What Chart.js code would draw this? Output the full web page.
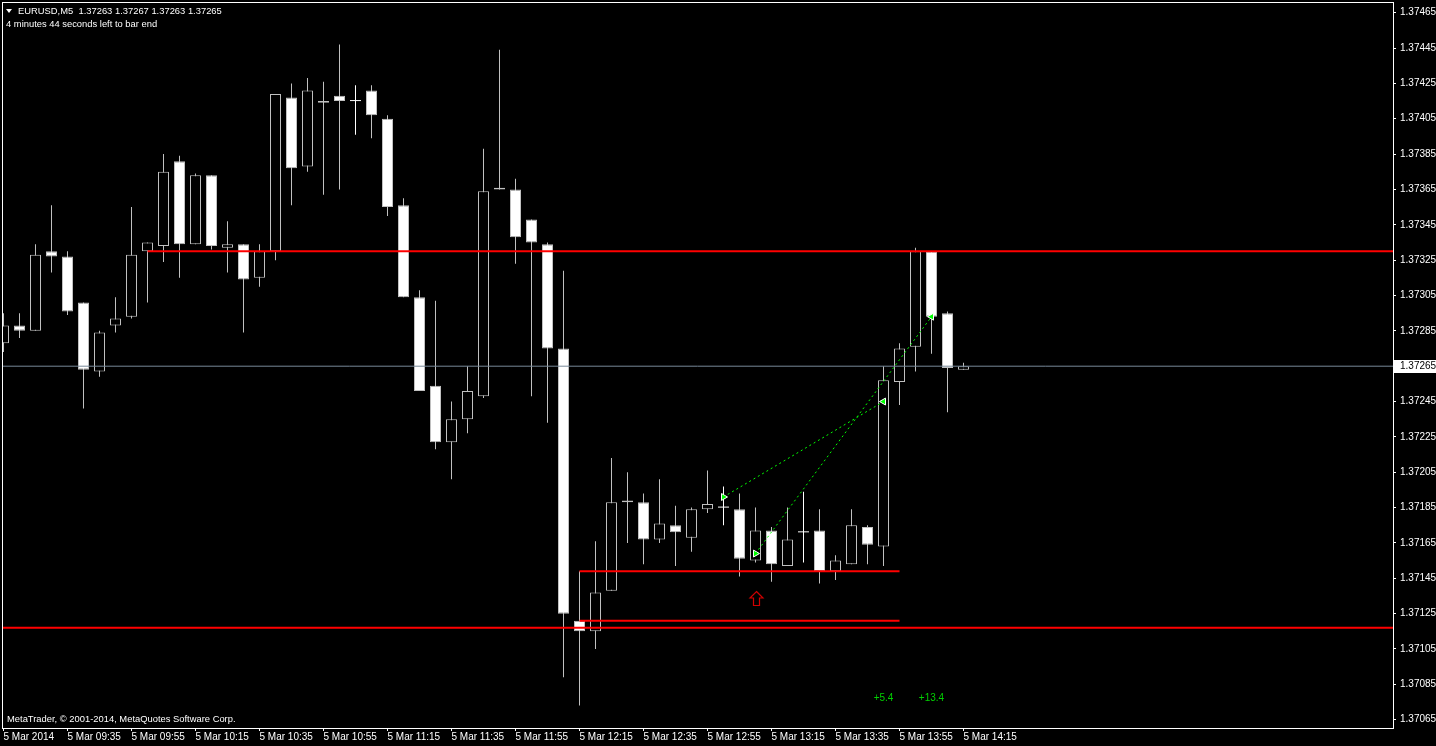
<!DOCTYPE html>
<html>
<head>
<meta charset="utf-8">
<script src="https://cdn.jsdelivr.net/npm/chart.js@4.4.0/dist/chart.umd.min.js"></script>
<style>
html, body { margin: 0; padding: 0; background: #000; overflow: hidden; }
#wrap { position: relative; width: 1436px; height: 746px; }
#c { position: absolute; left: 0; top: 0; }
.txt { position: absolute; color: #fff; font: 9.4px "Liberation Sans", Arial, sans-serif; white-space: pre; line-height: 12px; }
.tri { position: absolute; left: 6px; top: 9px; width: 0; height: 0;
       border-left: 3px solid transparent; border-right: 3px solid transparent; border-top: 4px solid #fff; }
</style>
</head>
<body>
<div id="wrap">
  <canvas id="c" width="1436" height="746"></canvas>
  <div class="tri"></div>
  <div class="txt" style="left:18px; top:5px;">EURUSD,M5  1.37263 1.37267 1.37263 1.37265</div>
  <div class="txt" style="left:6px; top:18px;">4 minutes 44 seconds left to bar end</div>
  <div class="txt" style="left:7px; top:713px;">MetaTrader, © 2001-2014, MetaQuotes Software Corp.</div>
</div>
<script>
// bougies M5 du 5 mars 2014
const times = [
  '09:15','09:20','09:25','09:30','09:35','09:40','09:45','09:50','09:55',
  '10:00','10:05','10:10','10:15','10:20','10:25','10:30','10:35','10:40','10:45','10:50','10:55',
  '11:00','11:05','11:10','11:15','11:20','11:25','11:30','11:35','11:40','11:45','11:50','11:55',
  '12:00','12:05','12:10','12:15','12:20','12:25','12:30','12:35','12:40','12:45','12:50','12:55',
  '13:00','13:05','13:10','13:15','13:20','13:25','13:30','13:35','13:40','13:45','13:50','13:55',
  '14:00','14:05','14:10','14:15'
];
const open = [
  1.37278, 1.37288, 1.37285, 1.37330, 1.37327, 1.37301, 1.37262, 1.37288, 1.37293, 1.37330,
  1.37333, 1.37381, 1.37334, 1.37373, 1.37332, 1.37334, 1.37315, 1.37330, 1.37417, 1.37378,
  1.37414, 1.37418, 1.37415, 1.37421, 1.37405, 1.37356, 1.37304, 1.37254, 1.37222, 1.37235,
  1.37248, 1.37365, 1.37365, 1.37348, 1.37334, 1.37275, 1.37121, 1.37115, 1.37138, 1.37189,
  1.37188, 1.37167, 1.37175, 1.37168, 1.37184, 1.37185, 1.37184, 1.37155, 1.37172, 1.37152,
  1.37171, 1.37172, 1.37149, 1.37153, 1.37174, 1.37163, 1.37256, 1.37276, 1.37330, 1.37295,
  1.37263
];
const high = [
  1.37295, 1.37295, 1.37334, 1.37356, 1.37330, 1.37301, 1.37285, 1.37304, 1.37355, 1.37335,
  1.37385, 1.37384, 1.37374, 1.37373, 1.37347, 1.37334, 1.37334, 1.37419, 1.37425, 1.37428,
  1.37426, 1.37447, 1.37424, 1.37424, 1.37407, 1.37360, 1.37308, 1.37302, 1.37245, 1.37265,
  1.37388, 1.37444, 1.37371, 1.37348, 1.37335, 1.37319, 1.37149, 1.37166, 1.37213, 1.37205,
  1.37193, 1.37201, 1.37186, 1.37185, 1.37206, 1.37197, 1.37193, 1.37185, 1.37174, 1.37185,
  1.37194, 1.37184, 1.37158, 1.37184, 1.37175, 1.37265, 1.37278, 1.37332, 1.37330, 1.37296,
  1.37267
];
const low = [
  1.37273, 1.37281, 1.37285, 1.37318, 1.37294, 1.37241, 1.37259, 1.37284, 1.37292, 1.37301,
  1.37324, 1.37315, 1.37334, 1.37331, 1.37318, 1.37284, 1.37310, 1.37325, 1.37356, 1.37375,
  1.37362, 1.37365, 1.37396, 1.37394, 1.37350, 1.37304, 1.37251, 1.37218, 1.37201, 1.37227,
  1.37247, 1.37365, 1.37323, 1.37248, 1.37233, 1.37089, 1.37073, 1.37105, 1.37138, 1.37165,
  1.37153, 1.37165, 1.37152, 1.37160, 1.37182, 1.37175, 1.37146, 1.37154, 1.37143, 1.37152,
  1.37154, 1.37142, 1.37144, 1.37153, 1.37153, 1.37152, 1.37243, 1.37262, 1.37272, 1.37239,
  1.37263
];
const close = [
  1.37288, 1.37285, 1.37328, 1.37327, 1.37296, 1.37263, 1.37284, 1.37292, 1.37328, 1.37335,
  1.37375, 1.37334, 1.37373, 1.37333, 1.37334, 1.37314, 1.37330, 1.37419, 1.37377, 1.37421,
  1.37415, 1.37415, 1.37415, 1.37407, 1.37355, 1.37304, 1.37251, 1.37222, 1.37235, 1.37251,
  1.37364, 1.37366, 1.37338, 1.37335, 1.37275, 1.37125, 1.37115, 1.37137, 1.37188, 1.37188,
  1.37167, 1.37176, 1.37171, 1.37184, 1.37187, 1.37185, 1.37156, 1.37172, 1.37153, 1.37167,
  1.37171, 1.37149, 1.37155, 1.37175, 1.37164, 1.37257, 1.37275, 1.37330, 1.37293, 1.37264,
  1.37265
];

// axes
const xTickIdx = [0, 4, 8, 12, 16, 20, 24, 28, 32, 36, 40, 44, 48, 52, 56, 60];
const xTickLabels = [
  '5 Mar 2014', '5 Mar 09:35', '5 Mar 09:55', '5 Mar 10:15', '5 Mar 10:35', '5 Mar 10:55',
  '5 Mar 11:15', '5 Mar 11:35', '5 Mar 11:55', '5 Mar 12:15', '5 Mar 12:35', '5 Mar 12:55',
  '5 Mar 13:15', '5 Mar 13:35', '5 Mar 13:55', '5 Mar 14:15'
];
const yTicks = [
  1.37065, 1.37085, 1.37105, 1.37125, 1.37145, 1.37165, 1.37185, 1.37205, 1.37225, 1.37245,
  1.37265, 1.37285, 1.37305, 1.37325, 1.37345, 1.37365, 1.37385, 1.37405, 1.37425, 1.37445,
  1.37465
];
const xMin = -0.09375, xMax = 86.84375;
const yMin = 1.370603, yMax = 1.3747105;

// objets tracés
const bidPrice = 1.37265;
const redLevels = [1.37330, 1.37117, 1.37149, 1.37121];
const redFrom = [9, xMin, 36, 36];
const redTo = [xMax, xMax, 56, 56];
const tradeOpenIdx = [45, 47];
const tradeOpenPrice = [1.37191, 1.37159];
const tradeCloseIdx = [55, 58];
const tradeClosePrice = [1.37245, 1.37293];
const tradeProfit = ['+5.4', '+13.4'];
const profitPrice = 1.37077;
const arrowIdx = 47;
const arrowPrice = 1.37138;

const isDoji = i => open[i] === close[i];

// supprime les marges ajoutées pour les étiquettes
function noPad(axis) {
    axis.paddingTop = 0;
    axis.paddingBottom = 0;
    axis.paddingLeft = 0;
    axis.paddingRight = 0;
}

const datasets = [];

// lignes rouges
redLevels.forEach((lvl, k) => {
    datasets.push({
        type: 'line',
        data: [{ x: redFrom[k], y: lvl }, { x: redTo[k], y: lvl }],
        borderColor: '#ff0000',
        borderWidth: 2,
        pointRadius: 0,
        order: 0
    });
});

// ligne du bid
datasets.push({
    type: 'line',
    data: [{ x: xMin, y: bidPrice }, { x: xMax, y: bidPrice }],
    borderColor: '#778899',
    borderWidth: 1,
    pointRadius: 0,
    order: 0
});

// trades
tradeOpenIdx.forEach((idx, k) => {
    datasets.push({
        type: 'line',
        data: [{ x: idx, y: tradeOpenPrice[k] }, { x: tradeCloseIdx[k], y: tradeClosePrice[k] }],
        borderColor: '#00ff00',
        borderWidth: 1,
        borderDash: [2, 3],
        pointRadius: 0,
        order: 0
    });
});
datasets.push({
    type: 'line',
    showLine: false,
    data: tradeOpenIdx.map((idx, k) => ({ x: idx, y: tradeOpenPrice[k] }))
        .concat(tradeCloseIdx.map((idx, k) => ({ x: idx, y: tradeClosePrice[k] }))),
    pointStyle: 'triangle',
    pointRotation: [90, 90, -90, -90],
    pointRadius: 4,
    pointBackgroundColor: '#00ff00',
    pointBorderColor: '#ffffff',
    pointBorderWidth: 1,
    order: 0
});

// corps des bougies
datasets.push({
    type: 'bar',
    data: times.map((t, i) => ({ x: i, y: [open[i], close[i]] })),
    barThickness: 11,
    grouped: false,
    borderSkipped: false,
    inflateAmount: 0,
    minBarLength: 1,
    borderWidth: ctx => isDoji(ctx.dataIndex) ? 0 : 1,
    borderColor: '#c0c0c0',
    backgroundColor: ctx => close[ctx.dataIndex] > open[ctx.dataIndex] ? '#000000' : '#ffffff',
    order: 2
});

// mèches
datasets.push({
    type: 'bar',
    data: times.map((t, i) => ({ x: i, y: [low[i], high[i]] })),
    barThickness: 1,
    grouped: false,
    borderSkipped: false,
    inflateAmount: 0,
    borderWidth: 0,
    backgroundColor: ctx => isDoji(ctx.dataIndex) ? '#ffffff' : '#c0c0c0',
    order: 3
});

const overlay = {
    id: 'overlay',
    afterDatasetsDraw(chart) {
        const { ctx, scales: { x, y } } = chart;
        ctx.save();

        // flèche rouge
        const cx = Math.round(x.getPixelForValue(arrowIdx)) + 0.5;
        const top = Math.round(y.getPixelForValue(arrowPrice)) + 0.5;
        ctx.beginPath();
        ctx.moveTo(cx, top);
        ctx.lineTo(cx + 6.5, top + 6.5);
        ctx.lineTo(cx + 3, top + 6.5);
        ctx.lineTo(cx + 3, top + 14);
        ctx.lineTo(cx - 3, top + 14);
        ctx.lineTo(cx - 3, top + 6.5);
        ctx.lineTo(cx - 6.5, top + 6.5);
        ctx.closePath();
        ctx.strokeStyle = '#d00000';
        ctx.lineWidth = 1.2;
        ctx.stroke();

        // profits
        ctx.font = '10px "Liberation Sans", Arial, sans-serif';
        ctx.fillStyle = '#00d000';
        ctx.textAlign = 'center';
        ctx.textBaseline = 'middle';
        tradeCloseIdx.forEach((idx, k) => {
            ctx.fillText(tradeProfit[k], x.getPixelForValue(idx), y.getPixelForValue(profitPrice));
        });
        ctx.restore();
    },
    afterDraw(chart) {
        const { ctx, chartArea: a, scales: { y } } = chart;
        ctx.save();
        ctx.strokeStyle = '#ffffff';
        ctx.lineWidth = 1;
        ctx.strokeRect(a.left + 0.5, a.top + 0.5, a.right - a.left, a.bottom - a.top);

        // étiquette du prix courant
        const py = y.getPixelForValue(bidPrice);
        ctx.fillStyle = '#ffffff';
        ctx.fillRect(a.right + 1, Math.round(py) - 6, 43, 13);
        ctx.fillStyle = '#000000';
        ctx.font = '10px "Liberation Sans", Arial, sans-serif';
        ctx.textBaseline = 'middle';
        ctx.textAlign = 'left';
        ctx.fillText(bidPrice.toFixed(5), a.right + 7, Math.round(py) + 0.5);
        ctx.restore();
    }
};

const tickFont = { family: '"Liberation Sans", Arial, sans-serif', size: 10 };

new Chart(document.getElementById('c'), {
    type: 'bar',
    data: { datasets: datasets },
    options: {
        responsive: false,
        devicePixelRatio: 1,
        animation: false,
        events: [],
        layout: { autoPadding: false, padding: { left: 2, top: 2, right: 0, bottom: 0 } },
        plugins: {
            legend: { display: false },
            tooltip: { enabled: false }
        },
        scales: {
            x: {
                type: 'linear',
                offset: false,
                min: xMin,
                max: xMax,
                afterBuildTicks: axis => { axis.ticks = xTickIdx.map(v => ({ value: v })); },
                afterFit: axis => { axis.height = 18; noPad(axis); },
                border: { display: false },
                grid: { display: true, offset: false, drawOnChartArea: false, color: '#ffffff', tickLength: 3 },
                ticks: {
                    autoSkip: false,
                    maxRotation: 0,
                    minRotation: 0,
                    align: 'start',
                    padding: 0,
                    color: '#ffffff',
                    font: tickFont,
                    callback: (v) => xTickLabels[xTickIdx.indexOf(v)]
                }
            },
            y: {
                type: 'linear',
                position: 'right',
                min: yMin,
                max: yMax,
                afterBuildTicks: axis => { axis.ticks = yTicks.map(v => ({ value: v })); },
                afterFit: axis => { axis.width = 43; noPad(axis); },
                border: { display: false },
                grid: { display: true, drawOnChartArea: false, color: '#ffffff', tickLength: 3 },
                ticks: {
                    autoSkip: false,
                    padding: 4,
                    color: '#ffffff',
                    font: tickFont,
                    callback: v => v.toFixed(5)
                }
            }
        }
    },
    plugins: [overlay]
});
</script>
</body>
</html>
